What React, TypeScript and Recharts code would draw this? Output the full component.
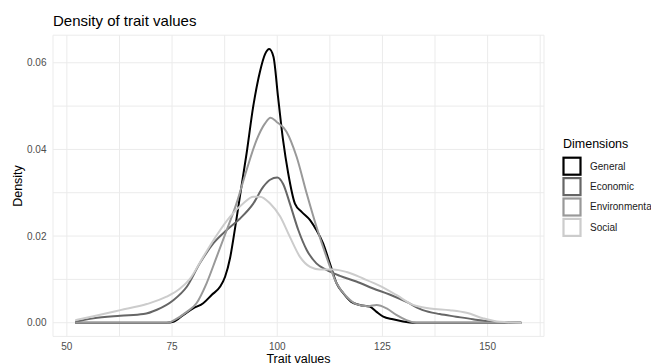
import { LineChart, Line, XAxis, YAxis, CartesianGrid } from 'recharts'

// density estimates, [trait value, density]
const generalPts = [
  [52, 0], [60, 0], [68, 0], [73.7, 0], [75.3, 0.0002], [77.7, 0.0018], [80, 0.0033],
  [82.4, 0.0045], [84.4, 0.0064], [86.4, 0.0083], [87.6, 0.0106], [88.8, 0.015],
  [90, 0.022], [91.1, 0.029], [92.7, 0.039], [94.3, 0.05], [95.9, 0.058], [97.1, 0.062],
  [98.1, 0.0632], [99.1, 0.0614], [100.2, 0.052], [101.4, 0.042], [102.6, 0.0345],
  [104.2, 0.0275], [105.8, 0.0256], [107.8, 0.0237], [109.3, 0.0214], [110.9, 0.0183],
  [112.5, 0.0137], [114.1, 0.0091], [115.7, 0.0068], [117.6, 0.0048], [119.6, 0.0041],
  [122, 0.0037], [123.6, 0.0025], [125.2, 0.0014], [127.5, 0.0008], [129.9, 0.0003],
  [132.3, 0], [140, 0], [150, 0], [158, 0],
]
const economicPts = [
  [52, 0.0002], [56.3, 0.001], [62.7, 0.0016], [68.2, 0.002], [71.4, 0.003], [75.3, 0.0052],
  [78.5, 0.0083], [81.6, 0.0137], [84.8, 0.0183], [88, 0.0214], [91.1, 0.024], [94.3, 0.0275],
  [96.7, 0.0314], [98.3, 0.033], [100, 0.0335], [101.4, 0.032], [103, 0.0275], [105, 0.0214],
  [107, 0.0168], [109.3, 0.0137], [111.7, 0.0122], [114.9, 0.0108], [118.8, 0.0095],
  [122.8, 0.0079], [126.7, 0.0065], [130.7, 0.0048], [134.6, 0.0029], [138.6, 0.002],
  [142.5, 0.0014], [146.5, 0.0008], [150.5, 0.0003], [154.4, 0.0001], [158, 0],
]
const environmentalPts = [
  [52, 0], [60, 0], [68, 0], [74, 0], [75.3, 0.0005], [78.5, 0.0025], [80.8, 0.0045],
  [83.2, 0.0091], [85.6, 0.0152], [88, 0.0214], [90.3, 0.0275], [92.7, 0.0352],
  [95.1, 0.0422], [97.1, 0.046], [98.4, 0.0473], [99.8, 0.0464], [102.2, 0.0441],
  [104.6, 0.0383], [107, 0.0298], [109.3, 0.0222], [111.7, 0.0152], [114.1, 0.0091],
  [116.5, 0.006], [118.8, 0.0043], [121.6, 0.0038], [123.6, 0.0041], [126, 0.0033],
  [128.3, 0.0018], [130.7, 0.0006], [133.1, 0], [140, 0], [150, 0], [158, 0],
]
const socialPts = [
  [52, 0.0006], [56.3, 0.0015], [62.7, 0.0029], [69, 0.0043], [73.7, 0.006], [76.9, 0.0079],
  [79.3, 0.0102], [82.4, 0.0152], [85.6, 0.0202], [88.8, 0.0245], [91.9, 0.0275],
  [94.3, 0.0291], [95.9, 0.0291], [98.3, 0.0275], [100.7, 0.0245], [103, 0.0198],
  [105.4, 0.0152], [107.8, 0.0129], [110.1, 0.0123], [113.3, 0.0123], [116.5, 0.0117],
  [120.4, 0.0102], [124.4, 0.0085], [128.3, 0.0064], [132.3, 0.0041], [136.3, 0.0033],
  [141, 0.0029], [145, 0.0023], [149, 0.001], [152.9, 0.0002], [158, 0],
]

const dimensions = ['General', 'Economic', 'Environmental', 'Social']
const colors = ['#000000', '#666666', '#999999', '#cccccc']
const seriesPts = [generalPts, economicPts, environmentalPts, socialPts]

const xTicks = [50, 62.5, 75, 87.5, 100, 112.5, 125, 137.5, 150, 162.5]
const xLabels = [50, 75, 100, 125, 150]
const yTicks = [0, 0.01, 0.02, 0.03, 0.04, 0.05, 0.06]
const yLabels = [0, 0.02, 0.04, 0.06]

const toRows = (pts: number[][]) => pts.map(([x, y]) => ({ x, y }))

const font = '"Liberation Sans", Arial, sans-serif'

export default function App() {
  return (
    <div style={{ position: 'absolute', left: 0, top: 0, width: 651, height: 363, fontFamily: font, overflow: 'hidden' }}>
      <LineChart width={651} height={363} margin={{ top: 35.2, right: 107, bottom: 0, left: 0 }}>
        <CartesianGrid stroke="#ebebeb" strokeWidth={1} />
        <XAxis
          type="number"
          dataKey="x"
          domain={[46.7, 163.4]}
          allowDataOverflow
          ticks={xTicks}
          tickFormatter={(v: number) => (xLabels.includes(v) ? String(v) : '')}
          axisLine={false}
          tickLine={false}
          tickSize={0}
          tickMargin={6}
          height={26.6}
          tick={{ fontSize: 10, fill: '#4d4d4d', fontFamily: font }}
        />
        <YAxis
          type="number"
          dataKey="y"
          domain={[-0.00316, 0.06636]}
          allowDataOverflow
          ticks={yTicks}
          tickFormatter={(v: number) => (yLabels.includes(v) ? v.toFixed(2) : '')}
          axisLine={false}
          tickLine={false}
          tickSize={0}
          tickMargin={6.5}
          width={53}
          tick={{ fontSize: 10, fill: '#4d4d4d', fontFamily: font }}
        />
        {seriesPts.map((pts, i) => (
          <Line
            key={dimensions[i]}
            data={toRows(pts)}
            dataKey="y"
            type="monotone"
            stroke={colors[i]}
            strokeWidth={2}
            dot={false}
            activeDot={false}
            isAnimationActive={false}
          />
        ))}
      </LineChart>
      <svg
        width={651}
        height={363}
        style={{ position: 'absolute', left: 0, top: 0, pointerEvents: 'none' }}
        fontFamily={font}
      >
        <text x={53} y={25.5} fontSize={15} fill="#000">Density of trait values</text>
        <text x={298.5} y={362.5} fontSize={12.5} textAnchor="middle" fill="#000">Trait values</text>
        <text x={22} y={186} fontSize={12.5} textAnchor="middle" fill="#000" transform="rotate(-90 22 186)">
          Density
        </text>
        <text x={563} y={148} fontSize={12.5} fill="#000">Dimensions</text>
        {dimensions.map((d, i) => (
          <g key={d}>
            <rect x={563.5} y={157.7 + i * 20.4} width={17} height={17} fill="#fff" stroke={colors[i]} strokeWidth={2.2} />
            <text x={590} y={169.6 + i * 20.4} fontSize={10} fill="#1a1a1a">{d}</text>
          </g>
        ))}
      </svg>
    </div>
  )
}
